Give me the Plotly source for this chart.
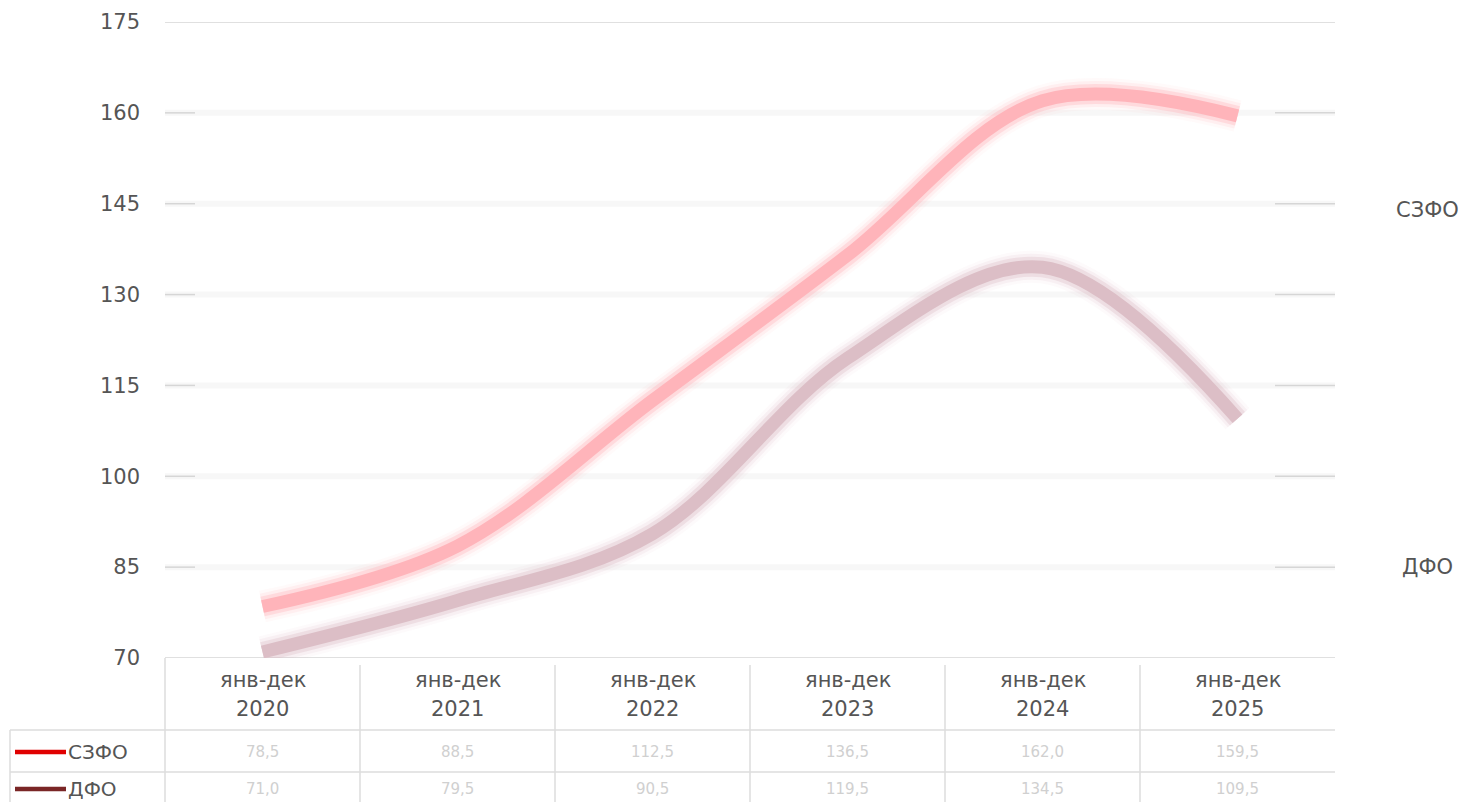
import plotly.graph_objects as go

# ---- data ----
categories = ["2020", "2021", "2022", "2023", "2024", "2025"]
period_label = "янв-дек"
szfo = [78.5, 88.5, 112.5, 136.5, 162.0, 159.5]
dfo = [71.0, 79.5, 90.5, 119.5, 134.5, 109.5]
series_names = ["СЗФО", "ДФО"]
y_ticks = [70, 85, 100, 115, 130, 145, 160, 175]

# ---- geometry (screen pixels; page body has an 8px margin) ----
OFF = 8
W, H = 1470 - 2 * OFF, 810 - 2 * OFF
PL, PR, PT, PB = 165, 1335, 22, 658   # plot area in screen px
PW, PH = PR - PL, PB - PT


def px(x):
    return (x - PL) / PW


def py(y):
    return (PB - y) / PH


FONT = "DejaVu Sans"
TXT = "#555555"
GRID = "#d6d6d6"
FS = 21

fig = go.Figure()
xs = list(range(len(categories)))

core = {"СЗФО": (255, 180, 186), "ДФО": (220, 190, 198)}
for name, vals in zip(series_names, [szfo, dfo]):
    r, g, b = core[name]
    for w, a in [(32, 0.07), (26, 0.15), (20, 0.35), (13, 1.0)]:
        fig.add_trace(go.Scatter(
            x=xs, y=vals, mode="lines", name=name, showlegend=False,
            line=dict(color=f"rgba({r},{g},{b},{a})", width=w, shape="spline", smoothing=1.0),
            hoverinfo="skip" if w != 13 else None,
        ))

shapes = []
for t in y_ticks:
    if t in (175, 70):
        shapes.append(dict(type="line", xref="paper", yref="y", x0=0, x1=1, y0=t, y1=t,
                           line=dict(color=GRID, width=1.5), layer="below"))
    else:
        shapes.append(dict(type="line", xref="paper", yref="y", x0=0, x1=1, y0=t, y1=t,
                           line=dict(color="#f7f7f7", width=6), layer="below"))
        shapes.append(dict(type="line", xref="paper", yref="y", x0=0, x1=px(195), y0=t, y1=t,
                           line=dict(color=GRID, width=1.5), layer="below"))
        shapes.append(dict(type="line", xref="paper", yref="y", x0=px(1275), x1=1, y0=t, y1=t,
                           line=dict(color=GRID, width=1.5), layer="below"))

TB = "#dcdcdc"
shapes.append(dict(type="line", xref="paper", yref="paper", x0=px(10), x1=1, y0=py(730), y1=py(730),
                   line=dict(color=TB, width=1.5)))
shapes.append(dict(type="line", xref="paper", yref="paper", x0=px(10), x1=1, y0=py(772), y1=py(772),
                   line=dict(color=TB, width=1.5)))
shapes.append(dict(type="line", xref="paper", yref="paper", x0=0, x1=0, y0=py(658), y1=py(810),
                   line=dict(color=TB, width=1.5)))
shapes.append(dict(type="line", xref="paper", yref="paper", x0=px(10), x1=px(10), y0=py(730), y1=py(810),
                   line=dict(color=TB, width=1.5)))
for i in range(1, len(categories)):
    xb = i / len(categories)
    shapes.append(dict(type="line", xref="paper", yref="paper", x0=xb, x1=xb, y0=py(665), y1=py(810),
                       line=dict(color=TB, width=1.5)))

key_colors = ["#e00000", "#7a2626"]
row_y = [752, 789]
for c, yy in zip(key_colors, row_y):
    shapes.append(dict(type="line", xref="paper", yref="paper", x0=px(15), x1=px(66), y0=py(yy), y1=py(yy),
                       line=dict(color=c, width=4.5)))

annotations = []
for name, yy in zip(series_names, row_y):
    annotations.append(dict(text=name, xref="paper", yref="paper", x=px(66), y=py(yy),
                            xanchor="left", yanchor="middle", showarrow=False,
                            font=dict(family=FONT, size=20, color=TXT)))

for i, cat in enumerate(categories):
    annotations.append(dict(text=period_label, xref="x", yref="paper", x=i, y=py(680),
                            xanchor="center", yanchor="middle", showarrow=False,
                            font=dict(family=FONT, size=FS, color=TXT)))
    annotations.append(dict(text=cat, xref="x", yref="paper", x=i, y=py(709),
                            xanchor="center", yanchor="middle", showarrow=False,
                            font=dict(family=FONT, size=FS, color=TXT)))
    for vals, yy in zip([szfo, dfo], row_y):
        annotations.append(dict(text=f"{vals[i]:.1f}".replace(".", ","), xref="x", yref="paper",
                                x=i, y=py(yy), xanchor="center", yanchor="middle", showarrow=False,
                                font=dict(family=FONT, size=15, color="#d0d0d0")))

annotations.append(dict(text="СЗФО", xref="paper", yref="paper", x=px(1427), y=py(210),
                        xanchor="center", yanchor="middle", showarrow=False,
                        font=dict(family=FONT, size=FS, color=TXT)))
annotations.append(dict(text="ДФО", xref="paper", yref="paper", x=px(1427), y=py(567),
                        xanchor="center", yanchor="middle", showarrow=False,
                        font=dict(family=FONT, size=FS, color=TXT)))

fig.update_layout(
    width=W, height=H,
    margin=dict(l=PL - OFF, r=W - (PR - OFF), t=PT - OFF, b=H - (PB - OFF), pad=0, autoexpand=False),
    paper_bgcolor="white", plot_bgcolor="white",
    showlegend=False,
    shapes=shapes, annotations=annotations,
    font=dict(family=FONT, color=TXT),
    xaxis=dict(range=[-0.5, len(categories) - 0.5], showticklabels=False, showgrid=False,
               zeroline=False, showline=False, fixedrange=True, automargin=False),
    yaxis=dict(range=[70, 175], tickvals=y_ticks, showgrid=False, zeroline=False, showline=False,
               tickfont=dict(family=FONT, size=FS, color=TXT), ticklabelstandoff=24,
               fixedrange=True, automargin=False),
)

fig.write_html("out.html")
